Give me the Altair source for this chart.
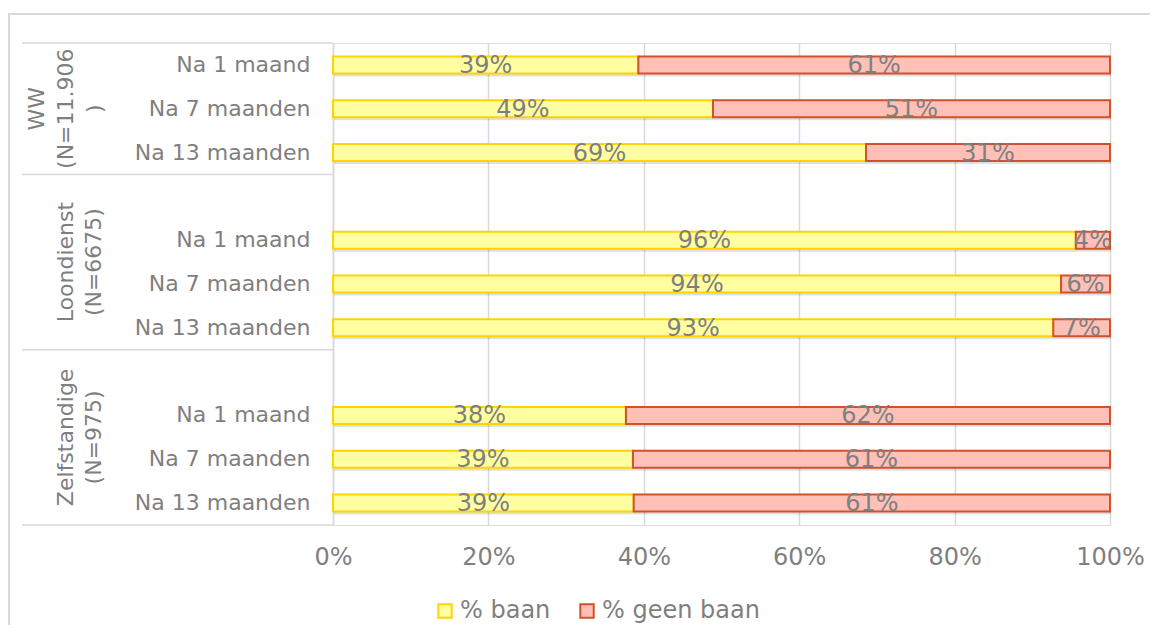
import altair as alt
import pandas as pd

# ---------------- data ----------------
groups = ["WW", "Loondienst", "Zelfstandige"]
group_labels = ["WW\n(N=11.906\n)", "Loondienst\n(N=6675)", "Zelfstandige\n(N=975)"]
periods = ["Na 1 maand", "Na 7 maanden", "Na 13 maanden"]
series = ["% baan", "% geen baan"]
# values per group x period (WW, Loondienst, Zelfstandige)
baan = [39.3, 48.9, 68.6, 95.6, 93.7, 92.7, 37.7, 38.6, 38.7]
geen_baan = [60.7, 51.1, 31.4, 4.4, 6.3, 7.3, 62.3, 61.4, 61.3]
x_ticks = [0, 20, 40, 60, 80, 100]

FONT = "DejaVu Sans"
TXT = "#7f7f7f"
GRID = "#d9d9d9"

# row order (empty spacer row before 2nd and 3rd group)
row_order = []
for g in groups:
    if g != "WW":
        row_order.append(g + "|")
    for p in periods:
        row_order.append(g + "|" + p)

recs = []
i = 0
for g in groups:
    for p in periods:
        for s_i, (s, vals) in enumerate(zip(series, [baan, geen_baan])):
            v = vals[i]
            recs.append({"key": g + "|" + p, "series": s, "value": v,
                         "ord": s_i, "lbl": f"{round(v)}%"})
        i += 1
df = pd.DataFrame(recs)

df_glab = pd.DataFrame({"key": [g + "|" + periods[1] for g in groups],
                        "txt": group_labels, "grp": groups})
df_top = pd.DataFrame({"key": [g + "|" if g != "WW" else g + "|" + periods[0] for g in groups]})
df_bot = pd.DataFrame({"key": [row_order[-1]]})

yscale = alt.Scale(domain=row_order, paddingInner=0, paddingOuter=0)
yaxis = alt.Axis(title=None, labelExpr="split(datum.label, '|')[1]", labelFont=FONT,
                 labelFontSize=22, labelColor=TXT, labelPadding=23, ticks=False,
                 domain=True, domainColor=GRID, domainWidth=1.5, grid=False)


def Y(bp=None):
    if bp is None:
        return alt.Y("key:N", scale=yscale, axis=yaxis, sort=None)
    return alt.Y("key:N", scale=yscale, axis=yaxis, sort=None, bandPosition=bp)


xscale = alt.Scale(domain=[0, 100], nice=False)
xaxis = alt.Axis(title=None, values=x_ticks, labelExpr="datum.value + '%'", labelFont=FONT,
                 labelFontSize=24, labelColor=TXT, labelPadding=20, labelFlush=False,
                 ticks=False, domain=False, grid=True, gridColor=GRID, gridWidth=1.5)

legend = alt.Legend(title=None, orient="none", legendX=100, legendY=556, direction="horizontal",
                    symbolType="square", symbolSize=180, symbolStrokeWidth=2,
                    labelFont=FONT, labelFontSize=24, labelColor=TXT, labelOffset=3,
                    columnPadding=24)

fill = alt.Fill("series:N", scale=alt.Scale(domain=series, range=["#ffffa2", "#ffc0b8"]), legend=legend)
stroke = alt.Stroke("series:N", scale=alt.Scale(domain=series, range=["#ffd400", "#d2502a"]), legend=legend)

base = alt.Chart(df)

frame_top = alt.Chart(alt.Data(values=[{}])).mark_rule(color=GRID, strokeWidth=2).encode(
    x=alt.value(-325), x2=alt.value(900), y=alt.value(-29))
frame_left = alt.Chart(alt.Data(values=[{}])).mark_rule(color=GRID, strokeWidth=2).encode(
    x=alt.value(-324), y=alt.value(-30), y2=alt.value(700))

sep_top = alt.Chart(df_top).mark_rule(color=GRID, strokeWidth=1.5).encode(
    y=Y(0), x=alt.value(-311), x2=alt.value(0))
sep_bot = alt.Chart(df_bot).mark_rule(color=GRID, strokeWidth=1.5).encode(
    y=Y(1), x=alt.value(-311), x2=alt.value(0))

shadow = base.mark_bar(size=17, color="black", opacity=0.12, yOffset=3, xOffset=1).encode(
    y=Y(), x=alt.X("value:Q", stack="zero", scale=xscale, axis=xaxis), order=alt.Order("ord:Q"))

bars = base.mark_bar(size=17, strokeWidth=2).encode(
    y=Y(), x=alt.X("value:Q", stack="zero", scale=xscale, axis=xaxis),
    fill=fill, stroke=stroke, order=alt.Order("ord:Q"))

labels = base.transform_stack(
    stack="value", as_=["v0", "v1"], groupby=["key"], sort=[alt.SortField("ord")]
).transform_calculate(mid="(datum.v0 + datum.v1) / 2").mark_text(
    font=FONT, fontSize=24, color=TXT, baseline="middle", dy=1
).encode(y=Y(), x=alt.X("mid:Q", scale=xscale, axis=xaxis), text="lbl:N")

glab_ww = alt.Chart(df_glab).transform_filter("datum.grp == 'WW'").mark_text(
    font=FONT, fontSize=22, color=TXT, angle=270, lineBreak="\n", lineHeight=29,
    align="center", baseline="middle"
).encode(y=Y(0.5), x=alt.value(-296), text="txt:N")

glab_other = alt.Chart(df_glab).transform_filter("datum.grp != 'WW'").mark_text(
    font=FONT, fontSize=22, color=TXT, angle=270, lineBreak="\n", lineHeight=28,
    align="center", baseline="middle"
).encode(y=Y(0), x=alt.value(-267), text="txt:N")

chart = alt.layer(frame_top, frame_left, sep_top, sep_bot, shadow, bars, labels,
                  glab_ww, glab_other).properties(
    width=777, height=482,
    padding={"left": 325, "top": 35, "right": 40, "bottom": 100},
    autosize=alt.AutoSizeParams(type="none"),
).configure_view(stroke=None).configure(background="white")

chart.save("out.html", embed_options={"renderer": "svg", "actions": False})
